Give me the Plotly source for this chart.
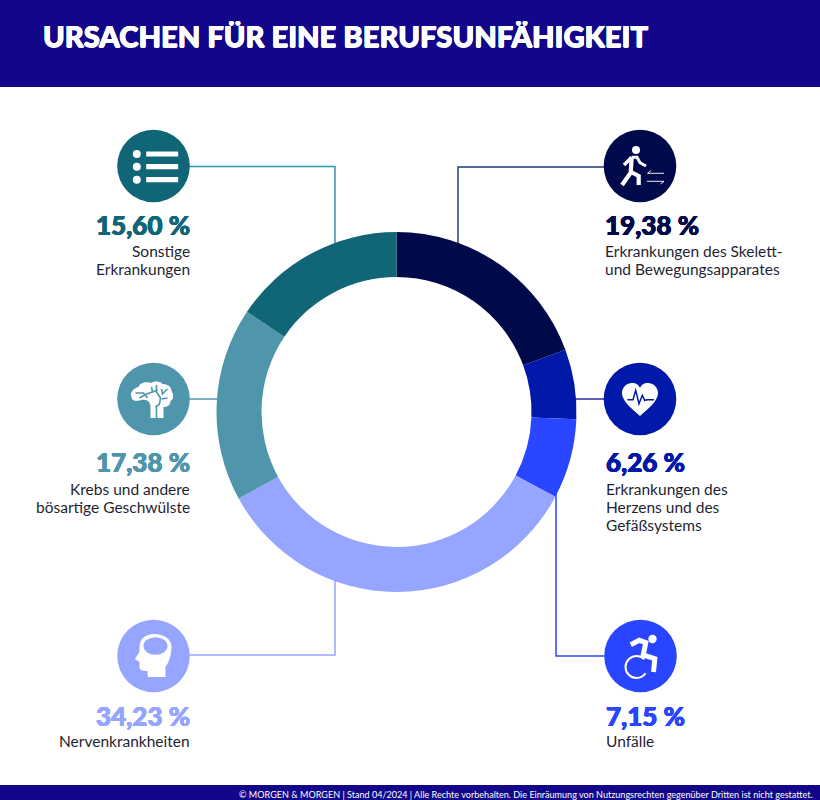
import re
import plotly.graph_objects as go

title = 'URSACHEN FÜR EINE BERUFSUNFÄHIGKEIT'
footer = '© MORGEN & MORGEN | Stand 04/2024 | Alle Rechte vorbehalten. Die Einräumung von Nutzungsrechten gegenüber Dritten ist nicht gestattet.'

categories = ['Erkrankungen des Skelett- und Bewegungsapparates',
              'Erkrankungen des Herzens und des Gefäßsystems',
              'Unfälle',
              'Nervenkrankheiten',
              'Krebs und andere bösartige Geschwülste',
              'Sonstige Erkrankungen']
values = [19.38, 6.26, 7.15, 34.23, 17.38, 15.60]
colors = ['#000A4B', '#0019A8', '#2A45FF', '#96A5FF', '#4F96AC', '#106577']
label_lines = [['Erkrankungen des Skelett-', 'und Bewegungsapparates'],
               ['Erkrankungen des', 'Herzens und des', 'Gefäßsystems'],
               ['Unfälle'],
               ['Nervenkrankheiten'],
               ['Krebs und andere', 'bösartige Geschwülste'],
               ['Sonstige', 'Erkrankungen']]

navy = '#12078A'
font_name = 'Lato'

# layout in page pixels
icon_x = [640, 640, 640.5, 153.5, 153.5, 153.5]
icon_y = [166, 399, 656, 656, 399, 166]
text_x = [603, 604, 604, 192, 192, 192]
text_y = [225, 462, 716, 716, 462, 225]
text_anchor = ['left', 'left', 'left', 'right', 'right', 'right']
connectors = [[(604, 167), (458, 167), (458, 250)],
              [(604, 399), (570, 399)],
              [(604, 656), (556, 656), (556, 490)],
              [(189, 655), (335, 655), (335, 575)],
              [(189, 399), (225, 399)],
              [(189, 166.5), (335, 166.5), (335, 250)]]
connector_colors = ['#1F3F73', '#2A2A9A', '#2A45FF', '#96A5FF', '#4F96AC', '#2F96AF']


def shift(path, cx, cy):
    nums = iter([cx, cy] * 200)
    return re.sub(r'-?\d+\.?\d*', lambda m: f'{float(m.group()) + next(nums):.2f}', path)


def heavy(col, d=0.45):
    # no black weight installed, thicken the bold with a tight text shadow
    return f'{d}px 0 0 {col}, -{d}px 0 0 {col}, 0 {d}px 0 {col}, 0 -{d}px 0 {col}'


shapes = []


def draw(path, cx, cy, fill=None, stroke=None, width=0):
    shapes.append(dict(type='path', path=shift(path, cx, cy), xref='x', yref='y',
                       fillcolor=fill or 'rgba(0,0,0,0)',
                       line=dict(color=stroke or 'rgba(0,0,0,0)', width=width)))


def dot(cx, cy, rx, ry, fill):
    shapes.append(dict(type='circle', xref='x', yref='y', x0=cx - rx, x1=cx + rx,
                       y0=cy - ry, y1=cy + ry, fillcolor=fill, line=dict(width=0)))


# header, footer
for y0, y1 in [(0, 87), (785, 800)]:
    shapes.append(dict(type='rect', xref='x', yref='y', x0=0, x1=820, y0=y0, y1=y1,
                       fillcolor=navy, line=dict(width=0), layer='below'))

# connector lines run under the ring
for pts, col in zip(connectors, connector_colors):
    path = 'M' + ' L'.join(f'{x},{y}' for x, y in pts)
    shapes.append(dict(type='path', path=path, xref='x', yref='y', layer='below',
                       line=dict(color=col, width=1.5)))

for x, y, col in zip(icon_x, icon_y, colors):
    dot(x, y, 36.3, 36.3, col)

# walking person
x, y = icon_x[0], icon_y[0]
dot(x - 4, y - 16, 4, 4, 'white')
draw('M-8.3,-8.7 L-9.3,6.7 L-18,19', x, y, stroke='white', width=4.2)
draw('M-9,6 L-1.3,10 L-1.3,19', x, y, stroke='white', width=4.2)
draw('M-8.3,-8.7 L-16,-1', x, y, stroke='white', width=3.5)
draw('M-8.3,-8.7 L-3,-8.7 L0,-3.3 L6,0', x, y, stroke='white', width=3)
draw('M24,7.3 L7.5,7.3 L11,4.5', x, y, stroke='white', width=0.9)
draw('M7,15.3 L24,15.3 L20.5,18', x, y, stroke='white', width=0.9)

# heart with pulse
x, y = icon_x[1], icon_y[1]
draw('M0,17 C-8,10 -18,2 -18,-6 C-18,-12 -13,-16 -8,-16 C-4,-16 -1,-14 0,-11 '
     'C1,-14 4,-16 8,-16 C13,-16 18,-12 18,-6 C18,2 8,10 0,17 Z', x, y, fill='white')
draw('M-12.7,0.7 L-7,0.7 L-4.3,-8.7 L-1,4.7 L2.3,-3.7 L4.7,1.3 L7.3,0.7 L14,0.7', x, y,
     stroke=colors[1], width=1.5)

# wheelchair
x, y = icon_x[2], icon_y[2]
dot(x + 12, y - 17, 4.2, 4.2, 'white')
draw('M-9.7,-11.3 L-1.3,-15.7 L5.3,-13.3 L2.7,-1 L14.3,2.7 L13,16', x, y, stroke='white', width=5)
draw('M3.8,3.2 C1.8,1.2 -1,0 -4,0 C-10.07,0 -15,4.93 -15,11 C-15,17.07 -10.07,22 -4,22 '
     'C0,22 3.2,20 5,17.3', x, y, stroke='white', width=2)

# head
x, y = icon_x[3], icon_y[3]
draw('M12,21 L12,11 C16,6 18,-3 18,-9 C18,-17 10,-22 1,-22 C-8,-22 -14,-17 -14,-9 '
     'L-14,-4 L-18.7,3 L-14,6 L-14,11 C-14,14 -12,15 -6,15 L-5.7,21 Z', x, y, fill='white')
dot(x + 2, y - 10, 12, 8.7, colors[3])

# brain
x, y = icon_x[4], icon_y[4]
draw('M-3,19 L10,19 L10,8 C14,8 17,6 17,2 C21,0 20,-5 18,-8 C18,-13 13,-15 9,-15 '
     'C6,-18 1,-18 -2,-16 C-8,-18 -14,-16 -15,-12 C-20,-11 -24,-6 -22,-2 '
     'C-22,3 -14,2 -12,1 C-6,0 -3,3 -3,8 Z', x, y, fill='white')
for seg in ['M-18,-6 L-10,-6 L-6,-1', 'M-14,-1 L-7,-5 L-1,-7 L4,-9', 'M3,-14 L3,-7 L7,-1 L6,5 L2,8',
            'M14,-10 L9,-5 L8,-10', 'M8,0 L14,-1', 'M3,8 L3,19', 'M-2,-12 L-1,-7']:
    draw(seg, x, y, stroke=colors[4], width=1.6)

# list
x, y = icon_x[5], icon_y[5]
for off in [-12, 0.7, 13.7]:
    dot(x - 16.7, y + off, 4, 4, 'white')
    shapes.append(dict(type='rect', xref='x', yref='y', x0=x - 7.3, x1=x + 24.7, y0=y + off - 2.6,
                       y1=y + off + 2.6, fillcolor='white', line=dict(width=0)))

annotations = [dict(x=40.5, y=35, text=title, showarrow=False, xanchor='left', yanchor='middle',
                    font=dict(family=font_name, size=29.2, color='white', weight=900,
                              shadow=heavy('white', 0.5))),
               dict(x=815, y=794.5, text=footer, showarrow=False, xanchor='right', yanchor='middle',
                    font=dict(family=font_name, size=9.07, color='white'))]
for i, v in enumerate(values):
    annotations.append(dict(x=text_x[i], y=text_y[i] - 0.5, text=f'{v:.2f} %'.replace('.', ','),
                            showarrow=False, xanchor=text_anchor[i], yanchor='middle',
                            font=dict(family=font_name, size=26, color=colors[i], weight=900,
                                      shadow=heavy(colors[i]))))
    first = 741 if len(label_lines[i]) == 1 else text_y[i] + 26 + (1 if text_y[i] == 462 else 0)
    for j, line in enumerate(label_lines[i]):
        annotations.append(dict(x=text_x[i], y=first + j * 18 - 0.5, text=line, showarrow=False,
                                xanchor=text_anchor[i], yanchor='middle',
                                font=dict(family=font_name, size=15.5, color='#1F1F33')))

fig = go.Figure()
fig.add_trace(go.Scatter(x=[], y=[], showlegend=False, hoverinfo='skip'))
fig.add_trace(go.Pie(labels=categories, values=values, sort=False, direction='clockwise', rotation=0,
                     hole=0.75, textinfo='none', showlegend=False,
                     marker=dict(colors=colors, line=dict(width=0)),
                     domain=dict(x=[216.5 / 820, 576.5 / 820], y=[1 - 592 / 800, 1 - 232 / 800])))
fig.update_layout(width=820, height=800, margin=dict(l=0, r=0, t=0, b=0), showlegend=False,
                  paper_bgcolor='white', plot_bgcolor='rgba(0,0,0,0)',
                  xaxis=dict(range=[0, 820], visible=False, fixedrange=True),
                  yaxis=dict(range=[800, 0], visible=False, fixedrange=True),
                  shapes=shapes, annotations=annotations)
fig.write_html("out.html", config={'displayModeBar': False},
               post_script="document.body.style.margin='0';document.documentElement.style.overflow='hidden';")
